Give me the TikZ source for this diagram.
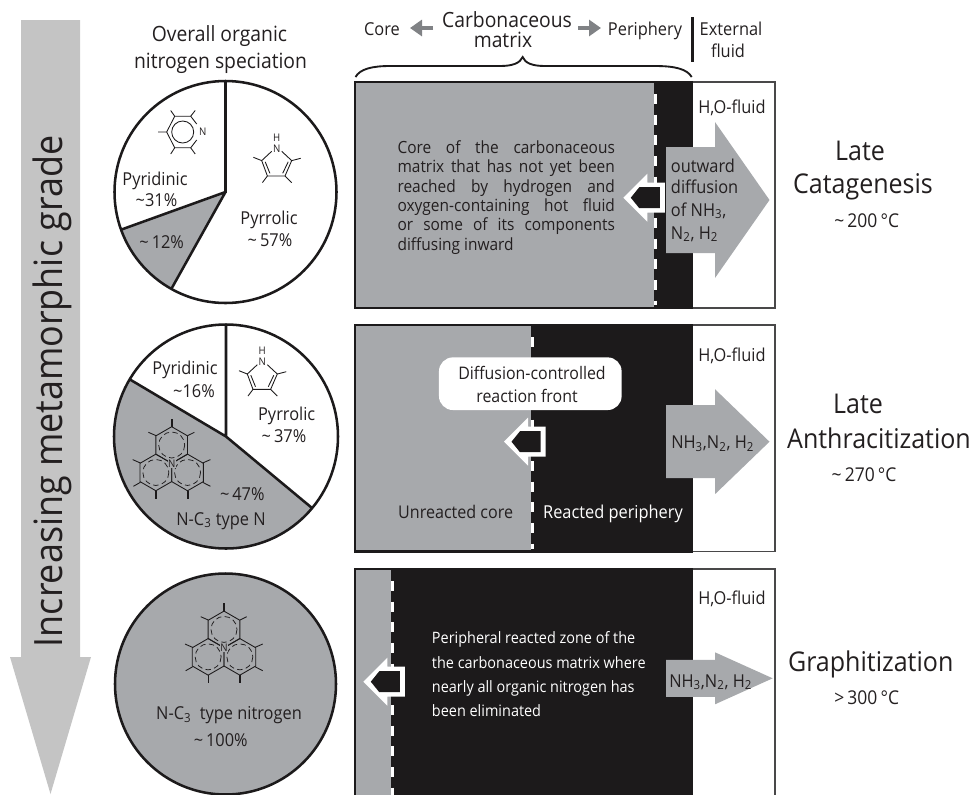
\documentclass[tikz,border=0pt]{standalone}
\usepackage{fontspec}
\setmainfont{Open Sans}[FakeStretch=0.92]
\usetikzlibrary{arrows.meta}
\definecolor{fillgray}{HTML}{A7A9AC}
\definecolor{leftgray}{HTML}{C4C4C4}
\definecolor{inkblack}{HTML}{1C1A1B}
\definecolor{inktext}{HTML}{231F20}
\definecolor{arrowgray}{HTML}{808285}
\newcommand{\fsz}[1]{\fontsize{\the\dimexpr #1pt*3/4\relax}{\the\dimexpr #1pt*3/4\relax}\selectfont}
\newcommand{\ssb}[1]{\textsubscript{#1}}
\newcommand{\tld}{\textasciitilde}
\newcommand{\jl}[1]{\makebox[163pt][s]{#1}}
\newcommand{\hexp}[2]{%
  \draw[mol] (#1,#2) ++(30:18.3) -- ++(150:18.3) -- ++(210:18.3) -- ++(270:18.3) -- ++(330:18.3) -- ++(30:18.3) -- cycle;
  \draw[mol,dash pattern=on 4pt off 2.6pt,line width=.55pt] (#1,#2) circle[radius=13];}
\newcommand{\nthree}[3]{%
\begin{scope}[shift={(#1,#2)}]
  \hexp{0}{-18.3}\hexp{-15.85}{9.15}\hexp{15.85}{9.15}
  \draw[mol] (16,-27.7) -- (22.7,-31) (-15.7,-27.7) -- (-23.3,-31)
    (-31.3,-.3) -- (-39,-3.7) (-31.3,19) -- (-38.3,23) (31,-.3) -- (38.7,-3.7) (31,19) -- (38.7,23);
  \draw[mol,line width=1.2pt] (0,-36.3) -- (0,-44.3) (-15.7,27.3) -- (-15.7,35.7) (16,27.3) -- (16,35.7);
  \node[fill=fillgray,inner sep=.4pt,text=inktext,font=\fsz{10.5}] (#3) at (0,0) {N};
\end{scope}}
\newcommand{\pyrrole}[3]{%
\begin{scope}[shift={(#1,#2)}]
  \node[text=inktext,inner sep=0,font=\fsz{10.5}] (#3n) at (0,0) {N};
  \node[text=inktext,inner sep=0,font=\fsz{10.5}] (#3h) at (0,-10.5) {H};
  \draw[mol] (-5,3) -- (-15,12.3) -- (-9.3,27.7) -- (8.3,27.7) -- (15,12.3) -- (5,3);
  \draw[mol] (-11.5,13.5) -- (-6.8,25) (11.5,13.5) -- (6,25);
  \draw[mol] (-15,12.3) -- (-23.3,9) (15,12.3) -- (24,10) (-9.3,27.7) -- (-14.3,34.3) (8.3,27.7) -- (15,34.3);
\end{scope}}
\newcommand{\pyridine}[3]{%
\begin{scope}[shift={(#1,#2)}]
  \draw[mol] (14,8) -- (8,15.8) -- (-8,15.8) -- (-16,0) -- (-8,-15.8) -- (8,-15.8) -- (14,-8);
  \draw[mol] (0,0) circle[radius=11];
  \draw[mol] (-8,-15.8) -- (-12,-21.5) (8,-15.8) -- (12.5,-21.5) (-16,0) -- (-24.5,0) (-8,15.8) -- (-12,22) (8,15.8) -- (12.5,22);
  \node[text=inktext,inner sep=0,font=\fsz{10.5}] (#3) at (20,0) {N};
\end{scope}}
\newcommand{\inarrow}[2]{%
\begin{scope}[shift={(#1,#2)}]
  \fill[white] (0,0) -- (24,-24) -- (24,-15) -- (41.5,-15) -- (41.5,15) -- (24,15) -- (24,24) -- cycle;
  \fill[inkblack] (7.5,0) -- (16,-10.5) -- (36.5,-10.5) -- (36.5,10.5) -- (16,10.5) -- cycle;
\end{scope}}
\newcommand{\outarrow}[4]{% tip x, tip y, half shaft, half head
  \fill[fillgray] (666,#2-#3) -- (715,#2-#3) -- (715,#2-#4) -- (#1,#2) -- (715,#2+#4) -- (715,#2+#3) -- (666,#2+#3) -- cycle;}
\newcommand{\panel}[3]{% top, bottom, front x
  \fill[fillgray] (355,#1) rectangle (#3,#2);
  \fill[inkblack] (#3,#1) rectangle (693,#2);
  \draw[white,line width=2.4pt,dash pattern=on 7.5pt off 8pt] (#3+1.7,#1+12) -- (#3+1.7,#2-3);
  \draw[inkblack,line width=1.6pt] (693,#1) -- (355,#1) -- (355,#2) -- (693,#2);
  \draw[inkblack!80,line width=1.1pt] (693,#1) -- (775,#1) -- (775,#2) -- (693,#2);
}
\tikzset{
  mol/.style={draw=inkblack,line width=.65pt},
  lbl/.style={text=inktext,inner sep=0,anchor=mid,yshift=-2.6pt},
  lblw/.style={text=white,inner sep=0,anchor=mid,yshift=-2.6pt},
  pieline/.style={draw=inkblack,line width=1.9pt},
  bb/.style={lbl,font=\fsz{21}},
  mm/.style={lbl,font=\fsz{17.8}},
  big/.style={lbl,font=\fsz{27.2},yshift=-1pt},
  tmp/.style={lbl,font=\fsz{19}},
  flow/.style={-{Triangle[length=9pt,width=12pt]},draw=arrowgray,line width=2.5pt},
}
\begin{document}
\begin{tikzpicture}[x=.75pt,y=-.75pt]
\useasboundingbox (0,0) rectangle (972,794);
% left arrow
\fill[leftgray] (21,20) -- (80,20) -- (80,657) -- (91,657) -- (50.5,794) -- (10,657) -- (21,657) -- cycle;
\node[lbl,rotate=90,font=\fsz{39}] (grade) at (59,388) {Increasing metamorphic grade};
% headers
\node[bb] (h1) at (219.5,34) {Overall organic};
\node[bb] (h2) at (220.5,61) {nitrogen speciation};
\node[mm] (core) at (382,28) {Core};
\node[bb] (cm) at (507,20) {Carbonaceous};
\node[bb] (cm2) at (503,40) {matrix};
\node[mm] (per) at (645,28) {Periphery};
\node[mm] (ext) at (731,28) {External};
\node[mm] (ext2) at (728,50) {fluid};
\coordinate (fl1) at (433,28); \coordinate (fl2) at (410,28);
\coordinate (fr1) at (578,28); \coordinate (fr2) at (601,28);
\draw[flow] (fl1) -- (fl2);
\draw[flow] (fr1) -- (fr2);
\draw[inkblack,line width=2pt] (692.3,17.3) -- (692.3,62.3);
\draw[inkblack,line width=1.4pt] (355.5,77) .. controls (360,69) and (372,66) .. (390,66) -- (500,66) .. controls (513,66) and (520,63) .. (522.7,57) .. controls (525,63) and (532,66) .. (545,66) -- (655,66) .. controls (675,66) and (687,69) .. (691.7,77);
% pie 1
\fill[fillgray] (225.5,192) -- (121.5,229.5) arc[start angle=160.2,end angle=119.2,radius=111] -- cycle;
\draw[pieline] (225.5,192) circle[radius=111];
\draw[pieline] (225.5,81) -- (225.5,192) -- (121.5,229.5) (225.5,192) -- (171.3,289);
\pyridine{182.7}{132}{pyn}
\pyrrole{276.7}{148.3}{pra}
\node[mm] (a1) at (155,178) {Pyridinic};
\node[mm] (a2) at (156.5,199) {\tld31\%};
\node[mm] (a3) at (269,217) {Pyrrolic};
\node[mm] (a4) at (270,239) {\tld\,57\%};
\node[mm] (a5) at (161.7,241.7) {\tld\,12\%};
% pie 2
\fill[fillgray] (226,436.5) -- (130,379.5) arc[start angle=210.7,end angle=39.7,radius=112] -- cycle;
\draw[pieline] (226,436.5) circle[radius=112];
\draw[pieline] (226,324.5) -- (226,436.5) (130,379.5) -- (226,436.5) -- (312,508);
\pyrrole{262.3}{361.7}{prb}
\nthree{171.7}{463.3}{nb}
\node[mm] (b1) at (185,367.7) {Pyridinic};
\node[mm] (b2) at (194,390.7) {\tld16\%};
\node[mm] (b3) at (286.7,413) {Pyrrolic};
\node[mm] (b4) at (284,435.7) {\tld\,37\%};
\node[mm] (b5) at (242.3,493.3) {\tld\,47\%};
\node[mm] (b6) at (221,518) {N-C\ssb{3} type N};
% pie 3
\fill[fillgray] (225.5,684) circle[radius=110.5];
\draw[pieline] (225.5,684) circle[radius=110.5];
\nthree{224}{647.7}{nc}
\node[mm] (c1) at (229,712.7) {N-C\ssb{3}\ \ type nitrogen};
\node[mm] (c2) at (220.7,739) {\tld\,100\%};
% panel 1
\panel{82}{308}{654}
\outarrow{769.5}{200}{53}{78}
\inarrow{623.3}{197.7}
\node[text=inktext,inner sep=0,anchor=north west,align=left,font=\fontsize{12.6}{14.6}\selectfont] (p1) at (397.3,140) {%
\jl{Core of the carbonaceous}\\\jl{matrix that has not yet been}\\\jl{reached by hydrogen and}\\\jl{oxygen-containing hot fluid}\\\jl{or some of its components}\\diffusing inward};
\node[mm] (f1) at (732,106) {H,O-fluid};
\node[lbl,font=\fsz{17.8},anchor=mid west] (o1) at (670.7,165) {outward};
\node[lbl,font=\fsz{17.8},anchor=mid west] (o2) at (670.7,186.7) {diffusion};
\node[lbl,font=\fsz{17.8},anchor=mid west] (o3) at (670.7,209) {of NH\ssb{3},};
\node[lbl,font=\fsz{17.8},anchor=mid west] (o4) at (670.7,232) {N\ssb{2}, H\ssb{2}};
% panel 2
\panel{325}{551.5}{530.7}
\outarrow{769.5}{441.7}{36.5}{52.5}
\inarrow{504}{441.7}
\node[fill=white,rounded corners=10.5pt,minimum width=137pt,minimum height=39.5pt,inner sep=0] (rf) at (530.3,383.7) {};
\node[lbl,font=\fsz{17.3}] (d1) at (532,372.7) {Diffusion-controlled};
\node[lbl,font=\fsz{17.3}] (d2) at (527,395) {reaction front};
\node[lbl,font=\fsz{17.5}] (d3) at (455.7,511.7) {Unreacted core};
\node[lblw,font=\fsz{17.8}] (d4) at (613,511.7) {Reacted periphery};
\node[mm] (f2) at (732,354) {H,O-fluid};
\node[lbl,font=\fsz{17.8}] (o5) at (712.7,441.7) {NH\ssb{3},N\ssb{2}, H\ssb{2}};
% panel 3
\panel{569}{800}{390.7}
\outarrow{772.7}{678.3}{18.5}{26}
\inarrow{363.3}{681.7}
\node[lblw,font=\fsz{15.7},anchor=mid west] (e1) at (431.7,636.7) {Peripheral reacted zone of the};
\node[lblw,font=\fsz{15.7},anchor=mid west] (e2) at (431.7,661) {the carbonaceous matrix where};
\node[lblw,font=\fsz{15.7},anchor=mid west] (e3) at (431.7,685) {nearly all organic nitrogen has};
\node[lblw,font=\fsz{15.7},anchor=mid west] (e4) at (431.7,709) {been eliminated};
\node[mm] (f3) at (732,597.3) {H,O-fluid};
\node[lbl,font=\fsz{17.8}] (o6) at (710.7,680) {NH\ssb{3},N\ssb{2}, H\ssb{2}};
% right labels
\node[big] (r1) at (860,151.7) {Late};
\node[big] (r2) at (863,185) {Catagenesis};
\node[tmp] (r3) at (866.7,220) {\tld\,200\,°C};
\node[big] (r4) at (858,405) {Late};
\node[big] (r5) at (879,440) {Anthracitization};
\node[tmp] (r6) at (864,474) {\tld\,270\,°C};
\node[big] (r7) at (870.7,662.7) {Graphitization};
\node[tmp] (r8) at (866.7,697) {>\,300\,°C};
\end{tikzpicture}
\end{document}
